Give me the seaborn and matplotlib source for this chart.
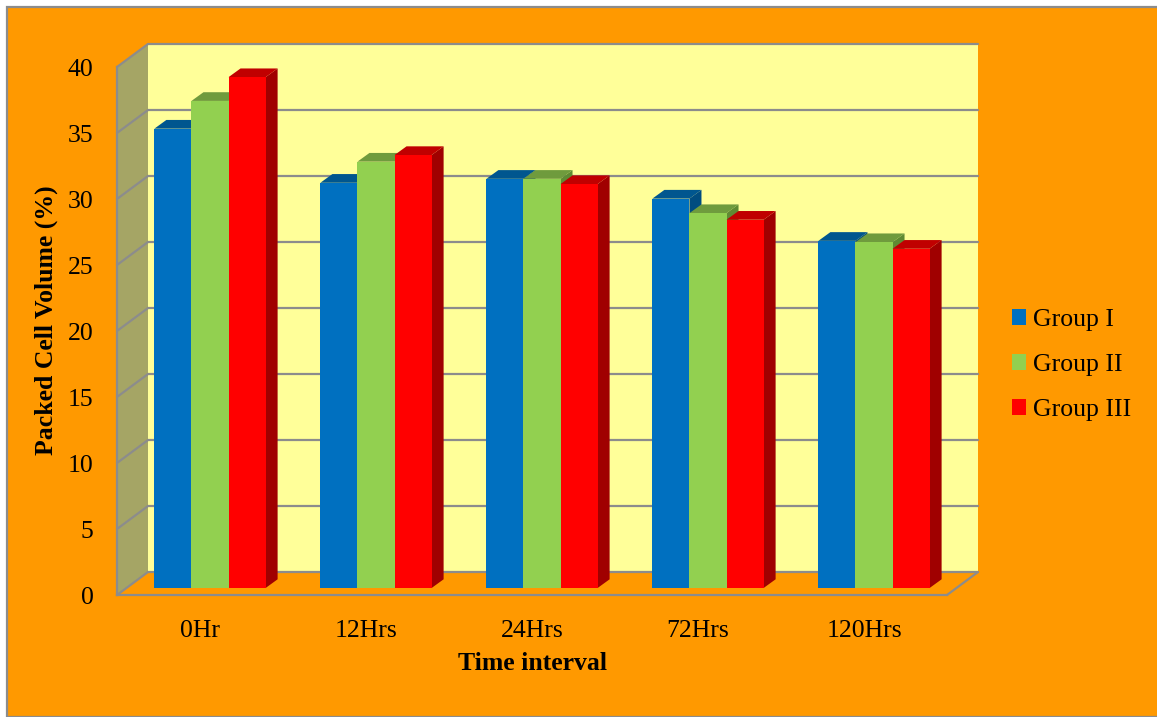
import numpy as np
import pandas as pd
import matplotlib
matplotlib.use("Agg")
import matplotlib.pyplot as plt
import matplotlib.transforms as mtransforms
from matplotlib.patches import Polygon, Patch, Rectangle
from matplotlib.lines import Line2D
import seaborn as sns

# ---- data -------------------------------------------------------------
time_points = ["0Hr", "12Hrs", "24Hrs", "72Hrs", "120Hrs"]
groups = ["Group I", "Group II", "Group III"]
group_i = [34.8, 30.7, 31.0, 29.5, 26.3]
group_ii = [36.9, 32.3, 31.0, 28.4, 26.2]
group_iii = [38.7, 32.8, 30.6, 27.9, 25.7]
y_ticks = [0, 5, 10, 15, 20, 25, 30, 35, 40]

df = pd.DataFrame({
    "Time": time_points * 3,
    "Group": [g for g in groups for _ in time_points],
    "PCV": group_i + group_ii + group_iii,
})

# ---- style ------------------------------------------------------------
sns.set_style("white")
plt.rcParams["font.family"] = ["Liberation Serif", "DejaVu Serif"]
plt.rcParams["text.color"] = "black"
plt.rcParams["xtick.labelcolor"] = "black"
plt.rcParams["ytick.labelcolor"] = "black"

front_colors = ["#0070C0", "#92D050", "#FF0000"]
top_colors = ["#00568F", "#6F9B3D", "#C00000"]
side_colors = ["#004C80", "#5F8A33", "#A00000"]
grid_gray = "#8C8C8C"
orange = "#FF9900"
FS = 18.5

W, H, DPI = 1157, 717, 100
fig = plt.figure(figsize=(W / DPI, H / DPI), dpi=DPI)
fig.patch.set_facecolor("white")

# orange chart area with grey frame
fig.add_artist(Rectangle((7 / W, 0), (W - 7) / W + 0.01, 1 - 7 / H,
                         transform=fig.transFigure, facecolor=orange,
                         edgecolor=grid_gray, lw=1.6, zorder=-10))


def px_axes(left, top, right, bottom):
    return fig.add_axes([left / W, 1 - bottom / H, (right - left) / W, (bottom - top) / H])


# three planes of the pseudo-3D box: back wall, bar plane, front axis plane
back_ax = px_axes(148, 44, 978, 572)
front_ax = px_axes(117, 67, 947, 595)
bar_ax = px_axes(127, 60, 957, 588)
for a in (back_ax, front_ax, bar_ax):
    a.set_xlim(-0.5, len(time_points) - 0.5)
    a.set_ylim(0, 40)
back_ax.set_zorder(0)
front_ax.set_zorder(1)
bar_ax.set_zorder(2)

# back wall
back_ax.set_facecolor("#FFFF99")
for s in back_ax.spines.values():
    s.set_visible(False)
back_ax.set_xticks([])
back_ax.set_yticks([])
for y in y_ticks:
    back_ax.axhline(y, color=grid_gray, lw=1.6, zorder=1, clip_on=False)

ident = mtransforms.IdentityTransform()
fig.canvas.draw()


def disp(ax, x, y):
    return ax.transData.transform((x, y))


xl = -0.5
xr = len(time_points) - 0.5
# left wall
wall = Polygon([disp(front_ax, xl, 0), disp(front_ax, xl, 40),
                disp(back_ax, xl, 40), disp(back_ax, xl, 0)],
               closed=True, transform=ident, facecolor="#A5A565",
               edgecolor="none", zorder=0.5, clip_on=False)
back_ax.add_artist(wall)
for y in y_ticks:
    p, q = disp(front_ax, xl, y), disp(back_ax, xl, y)
    back_ax.add_artist(Line2D([p[0], q[0]], [p[1], q[1]], transform=ident,
                              color=grid_gray, lw=1.6, clip_on=False, zorder=2))
# floor right edge
p, q = disp(front_ax, xr, 0), disp(back_ax, xr, 0)
back_ax.add_artist(Line2D([p[0], q[0]], [p[1], q[1]], transform=ident,
                          color=grid_gray, lw=1.6, clip_on=False, zorder=2))

# front axis plane: spines, ticks and labels
front_ax.set_facecolor("none")
for name in ("top", "right"):
    front_ax.spines[name].set_visible(False)
for name in ("left", "bottom"):
    front_ax.spines[name].set_color(grid_gray)
    front_ax.spines[name].set_linewidth(1.6)
front_ax.set_yticks(y_ticks)
front_ax.set_yticklabels([str(v) for v in y_ticks], fontsize=FS)
front_ax.tick_params(axis="y", length=5, width=1.6, color=grid_gray, pad=12,
                     labelcolor="black")
front_ax.set_xticks(range(len(time_points)))
front_ax.set_xticklabels(time_points, fontsize=FS)
front_ax.set_xticks(np.arange(-0.5, len(time_points)), minor=True)
front_ax.tick_params(axis="x", which="major", length=0, pad=18, labelcolor="black")
front_ax.tick_params(axis="x", which="minor", length=5, width=1.6, color=grid_gray)

# bars
sns.barplot(data=df, x="Time", y="PCV", hue="Group", order=time_points,
            hue_order=groups, palette=front_colors, saturation=1, width=0.67,
            linewidth=0, legend=False, ax=bar_ax)
bar_ax.set_axis_off()
fig.canvas.draw()

dx, dy = 12, 8.7
bars = sorted(bar_ax.patches, key=lambda r: r.get_x())
for i, rect in enumerate(bars):
    k = i % 3
    x0, w, h = rect.get_x(), rect.get_width(), rect.get_height()
    (ax0, ay0) = disp(bar_ax, x0, 0)
    (ax1, ay1) = disp(bar_ax, x0 + w, h)
    side = Polygon([(ax1, ay0), (ax1 + dx, ay0 + dy), (ax1 + dx, ay1 + dy), (ax1, ay1)],
                   closed=True, transform=ident, facecolor=side_colors[k],
                   edgecolor="none", clip_on=False, zorder=10 + 3 * i)
    top = Polygon([(ax0, ay1), (ax1, ay1), (ax1 + dx, ay1 + dy), (ax0 + dx, ay1 + dy)],
                  closed=True, transform=ident, facecolor=top_colors[k],
                  edgecolor="none", clip_on=False, zorder=10 + 3 * i)
    bar_ax.add_artist(side)
    bar_ax.add_artist(top)
    rect.set_zorder(11 + 3 * i)
    rect.set_clip_on(False)

# axis titles
fig.text(46 / W, 1 - 320 / H, "Packed Cell Volume (%)", rotation=90,
         ha="center", va="center", fontsize=FS, fontweight="bold", color="black")
fig.text(532 / W, 1 - 663 / H, "Time interval", ha="center", va="center",
         fontsize=FS, fontweight="bold", color="black")

# legend
handles = [Patch(facecolor=c, edgecolor="none") for c in front_colors]
leg = fig.legend(handles, groups, loc="center left",
                 bbox_to_anchor=(999 / W, 1 - 365 / H), frameon=False,
                 fontsize=FS, handlelength=0.55, handleheight=0.55,
                 handletextpad=0.28, labelspacing=0.9, borderpad=0)
for t in leg.get_texts():
    t.set_color("black")

fig.savefig("out.png", dpi=DPI, facecolor=fig.get_facecolor())
